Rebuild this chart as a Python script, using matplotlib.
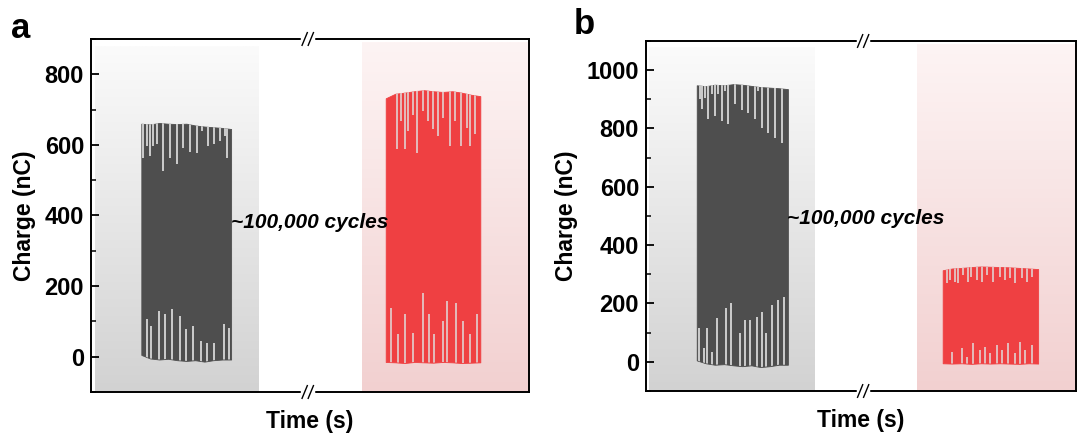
import numpy as np
import matplotlib
matplotlib.use("Agg")
import matplotlib.pyplot as plt
from matplotlib.ticker import MultipleLocator

plt.rcParams['font.family'] = ['Liberation Sans', 'DejaVu Sans']
plt.rcParams['font.weight'] = 'bold'

# ---------------- data (time in arbitrary units, charge in nC) ----------------
# Panel a - gray (before) block
a_gray_t = [11.5, 13.5, 15.6, 17.6, 19.7, 21.8, 23.8, 25.9, 27.9, 30.0, 32.0]
a_gray_top = [660, 658, 662, 660, 659, 660, 655, 652, 650, 648, 645]
a_gray_bot = [5, -5, -8, -6, -10, -12, -10, -14, -10, -8, -8]
a_gray_dip_t = [11.9, 12.7, 13.5, 14.2, 15.0, 16.4, 18.0, 19.6, 21.0, 22.6, 24.1, 25.3, 26.7, 28.1, 29.5, 30.6, 31.1]
a_gray_dip_v = [562, 596, 568, 596, 602, 525, 562, 545, 590, 579, 576, 638, 596, 602, 610, 624, 562]
a_gray_rise_t = [12.9, 13.8, 15.5, 17.0, 18.5, 20.3, 21.7, 23.2, 25.2, 26.4, 28.0, 30.3, 31.5]
a_gray_rise_v = [107, 88, 130, 121, 136, 116, 79, 88, 45, 40, 40, 93, 82]

# Panel a - red (after) block
a_red_t = [67.3, 69.5, 71.6, 73.8, 76.0, 78.1, 80.3, 82.5, 84.6, 86.8, 88.9]
a_red_top = [732, 745, 748, 752, 755, 752, 750, 752, 748, 742, 738]
a_red_bot = [-15, -16, -18, -15, -16, -17, -15, -16, -18, -17, -16]
a_red_dip_t = [69.8, 70.9, 71.7, 72.4, 73.6, 74.5, 75.9, 77.0, 78.2, 79.3, 80.4, 82.0, 83.1, 84.6, 85.8, 86.5, 87.7]
a_red_dip_v = [588, 667, 588, 638, 686, 576, 695, 667, 644, 624, 675, 596, 667, 596, 647, 596, 630]
a_red_rise_t = [68.5, 70.0, 71.6, 73.6, 75.8, 77.1, 78.4, 80.3, 81.4, 83.4, 85.0, 86.5, 88.1]
a_red_rise_v = [138, 65, 121, 68, 181, 121, 65, 102, 158, 153, 102, 65, 121]

# Panel b - gray (before) block
b_gray_t = [11.8, 13.9, 16.0, 18.2, 20.3, 22.4, 24.5, 26.6, 28.8, 30.9, 33.0]
b_gray_top = [948, 945, 950, 948, 952, 950, 946, 942, 940, 938, 935]
b_gray_bot = [5, -5, -10, -8, -12, -15, -12, -18, -15, -10, -10]
b_gray_dip_t = [12.6, 13.0, 13.7, 14.5, 15.4, 16.0, 16.8, 17.6, 18.4, 19.1, 20.7, 22.3, 23.8, 25.3, 26.1, 26.9, 28.4, 30.0, 31.6]
b_gray_dip_v = [901, 867, 904, 833, 918, 843, 918, 826, 928, 816, 884, 863, 853, 833, 928, 802, 785, 768, 751]
b_gray_rise_t = [12.3, 13.4, 14.2, 15.4, 16.6, 18.6, 19.8, 21.8, 23.0, 24.3, 25.7, 27.0, 27.8, 29.2, 30.6, 32.2]
b_gray_rise_v = [116, 48, 116, 34, 150, 184, 201, 99, 143, 143, 154, 171, 99, 195, 212, 222]

# Panel b - red (after) block
b_red_t = [69.0, 71.2, 73.4, 75.7, 77.9, 80.1, 82.3, 84.5, 86.8, 89.0, 91.2]
b_red_top = [314, 320, 322, 325, 327, 326, 325, 324, 322, 320, 318]
b_red_bot = [-5, -6, -5, -7, -5, -6, -5, -6, -7, -5, -6]
b_red_dip_t = [69.9, 70.7, 71.9, 72.6, 73.8, 75.0, 75.7, 76.9, 78.1, 79.4, 80.8, 82.3, 83.5, 84.7, 85.8, 87.4, 88.5, 89.7]
b_red_dip_v = [270, 280, 273, 270, 297, 273, 290, 280, 273, 297, 273, 290, 280, 287, 270, 287, 273, 290]
b_red_rise_t = [71.1, 73.4, 74.6, 76.1, 77.7, 78.8, 80.0, 81.6, 82.7, 84.3, 85.8, 87.0, 88.1, 89.7]
b_red_rise_v = [34, 48, 17, 65, 41, 51, 31, 58, 41, 65, 31, 68, 41, 58]

ylims = {'a': (-100, 900), 'b': (-100, 1100)}
yticks = {'a': [0, 200, 400, 600, 800], 'b': [0, 200, 400, 600, 800, 1000]}
annot = "~100,000 cycles"

# ---------------- styling ----------------
GRAY = '#4e4e4e'
RED = '#ef4042'
GAP_GRAY = '#cdcdcd'
GAP_RED = '#e3bcbc'
FS = 16.5

fig = plt.figure(figsize=(10.79, 4.34), dpi=100)
ax_a = fig.add_axes([0.0843, 0.0968, 0.4059, 0.8134])
ax_b = fig.add_axes([0.5987, 0.0991, 0.3985, 0.8065])


def gradient(ax, x0, x1, top_rgb, bot_rgb, ylim):
    n = 256
    f = np.linspace(0, 1, n)[:, None]
    top = np.array(top_rgb) / 255.0
    bot = np.array(bot_rgb) / 255.0
    img = top[None, None, :] * (1 - f[:, :, None]) + bot[None, None, :] * f[:, :, None]
    ax.imshow(img, extent=[x0, x1, ylim[0], ylim[1]], aspect='auto', zorder=0,
              interpolation='bilinear')


def block(ax, t, top, bot, dip_t, dip_v, rise_t, rise_v, color, gapcolor):
    poly = ax.fill_between(t, bot, top, color=color, lw=0.6, edgecolor=color, zorder=2)
    path = poly.get_paths()[0]
    tr = poly.get_transform()
    l1 = ax.vlines(dip_t, dip_v, 5000, colors=gapcolor, lw=1.4, zorder=3)
    l1.set_clip_path(path, tr)
    l2 = ax.vlines(rise_t, -5000, rise_v, colors=gapcolor, lw=1.4, zorder=3)
    l2.set_clip_path(path, tr)


def breakmark(ax, xc):
    for yc in (0.0, 1.0):
        ax.plot([xc - 0.012, xc + 0.012], [yc, yc], transform=ax.transAxes,
                color='white', lw=2.5, clip_on=False, zorder=5)
        for dx in (-0.007, 0.007):
            ax.plot([xc + dx - 0.006, xc + dx + 0.006], [yc - 0.018, yc + 0.018],
                    transform=ax.transAxes, color='black', lw=1.0,
                    clip_on=False, zorder=6)


panels = [
    (ax_a, 'a', (1.0, 38.4), (61.9, 100.0),
     (a_gray_t, a_gray_top, a_gray_bot, a_gray_dip_t, a_gray_dip_v, a_gray_rise_t, a_gray_rise_v),
     (a_red_t, a_red_top, a_red_bot, a_red_dip_t, a_red_dip_v, a_red_rise_t, a_red_rise_v),
     (32.0, 380), 49.5),
    (ax_b, 'b', (0.7, 39.3), (63.0, 100.0),
     (b_gray_t, b_gray_top, b_gray_bot, b_gray_dip_t, b_gray_dip_v, b_gray_rise_t, b_gray_rise_v),
     (b_red_t, b_red_top, b_red_bot, b_red_dip_t, b_red_dip_v, b_red_rise_t, b_red_rise_v),
     (32.8, 491), 50.5),
]

for ax, key, gspan, pspan, gdat, rdat, txt, brk in panels:
    yl = ylims[key]
    span = yl[1] - yl[0]
    gradient(ax, gspan[0], gspan[1], (251, 251, 251), (210, 210, 210),
             (yl[0], yl[1] - 0.02 * span))
    gradient(ax, pspan[0], pspan[1], (253, 244, 244), (242, 208, 208),
             (yl[0], yl[1] - 0.01 * span))
    block(ax, *gdat, GRAY, GAP_GRAY)
    block(ax, *rdat, RED, GAP_RED)
    ax.text(txt[0], txt[1], annot, fontsize=15, fontweight='bold', style='italic',
            ha='left', va='center', zorder=4)
    ax.set_xlim(0, 100)
    ax.set_ylim(*yl)
    ax.set_xticks([])
    ax.set_yticks(yticks[key])
    ax.yaxis.set_minor_locator(MultipleLocator(100))
    ax.tick_params(axis='y', which='major', direction='in', length=6, width=1.3,
                   labelsize=17, pad=5)
    ax.tick_params(axis='y', which='minor', direction='in', length=3.5, width=1.1)
    for lab in ax.get_yticklabels():
        lab.set_fontweight('bold')
    for s in ax.spines.values():
        s.set_linewidth(1.4)
    ax.set_ylabel('Charge (nC)', fontsize=FS, fontweight='bold', labelpad=6)
    ax.set_xlabel('Time (s)', fontsize=FS, fontweight='bold', labelpad=13)
    breakmark(ax, brk / 100.0)

fig.text(21 / 1079, 1 - 28 / 434, 'a', fontsize=25, fontweight='bold', ha='center', va='center')
fig.text(584 / 1079, 1 - 24 / 434, 'b', fontsize=25, fontweight='bold', ha='center', va='center')

fig.savefig('out.png', dpi=100)
